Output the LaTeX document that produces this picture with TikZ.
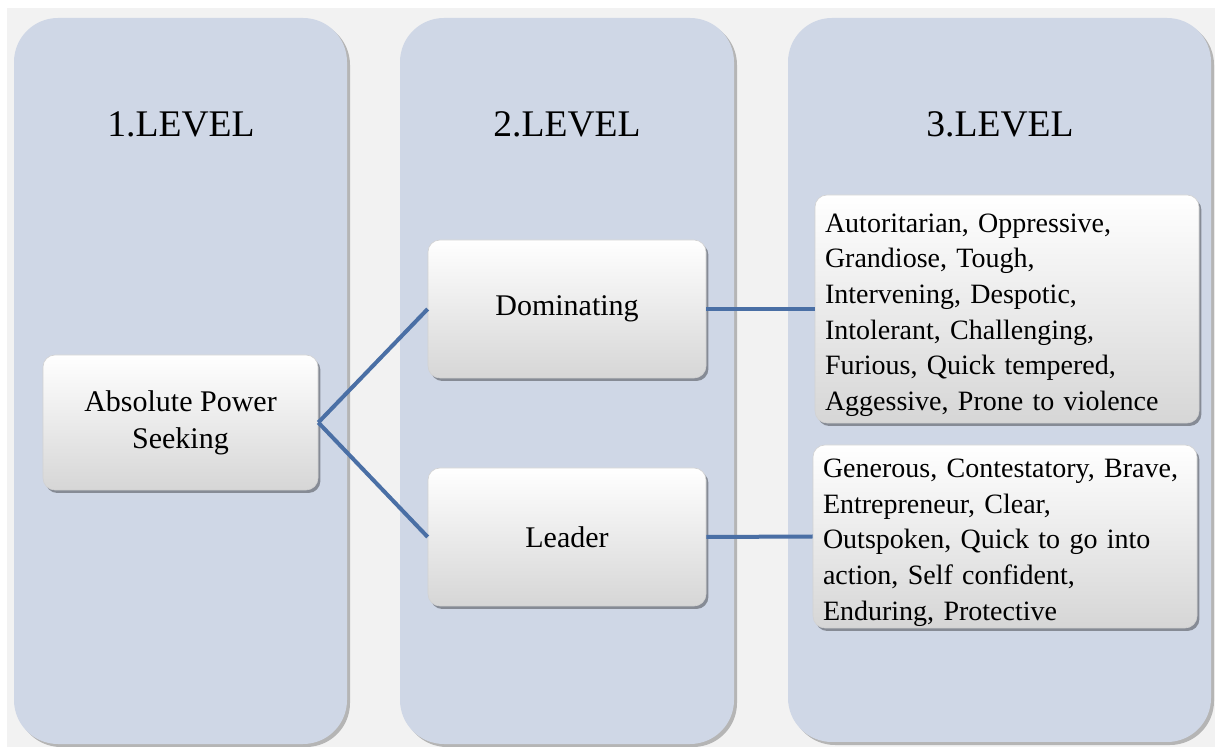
\documentclass[tikz,border=0pt]{standalone}
\usepackage{fontspec}
\setmainfont{Liberation Serif}
\usetikzlibrary{shadows}
\definecolor{pagegray}{HTML}{F2F2F2}
\definecolor{colfill}{HTML}{CFD7E6}
\definecolor{boxbottom}{HTML}{D6D6D6}
\definecolor{linkblue}{HTML}{4A6FA5}
\newcommand{\toppad}{\rule{0pt}{15.4pt}}
\begin{document}
\begin{tikzpicture}[x=0.5pt,y=-0.5pt,
  column/.style={fill=colfill, rounded corners=22pt,
    drop shadow={shadow xshift=1.5pt, shadow yshift=-1.5pt, fill=black, opacity=.25}},
  level/.style={font=\fontsize{18.8}{22}\selectfont, text=black},
  box/.style={rounded corners=6pt, top color=white, bottom color=boxbottom,
    draw=gray!35, line width=0.3pt, align=center,
    font=\fontsize{15}{18.35}\selectfont,
    drop shadow={shadow xshift=1.2pt, shadow yshift=-1.5pt, fill=black, opacity=.35}},
  listbox/.style={box, align=left, inner xsep=5pt, inner ysep=0pt,
    font=\fontsize{14}{17.8}\selectfont},
  conn/.style={draw=linkblue, line width=2pt}]
\useasboundingbox (0,0) rectangle (1215,747);
\fill[white] (0,0) rectangle (1215,747);
\fill[pagegray] (7,8) rectangle (1215,747);

% three level columns
\path[column] (14,18) rectangle (347,744);
\path[column] (400,18) rectangle (734,744);
\path[column] (788,18) rectangle (1211,742);

\node[level] (t1) at (181,124) {1.LEVEL};
\node[level] (t2) at (567,124) {2.LEVEL};
\node[level] (t3) at (1000,124) {3.LEVEL};

% level 1
\node[box, minimum width=137.5pt, minimum height=67.5pt] (aps) at (180.5,422.5)
  {Absolute Power\\Seeking};

% level 2
\node[box, minimum width=139pt, minimum height=69pt] (dom) at (567,309) {Dominating};
\node[box, minimum width=139pt, minimum height=69pt] (lead) at (567,537) {Leader};

% level 3
\node[listbox, text width=182pt, minimum height=114pt] (traitsA) at (1007,309)
  {\toppad Autoritarian, Oppressive,\\Grandiose, Tough,\\Intervening, Despotic,\\Intolerant, Challenging,\\Furious, Quick tempered,\\Aggessive, Prone to violence};
\node[listbox, text width=182pt, minimum height=91.5pt] (traitsB) at (1005,536.5)
  {\toppad Generous, Contestatory, Brave,\\Entrepreneur, Clear,\\Outspoken, Quick to go into\\action, Self confident,\\Enduring, Protective};

% connectors
\draw[conn] (aps.east) -- (dom.west);
\draw[conn] (aps.east) -- (lead.west);
\draw[conn] (dom.east) -- (traitsA.west);
\draw[conn] (lead.east) -- (traitsB.west);
\end{tikzpicture}
\end{document}
